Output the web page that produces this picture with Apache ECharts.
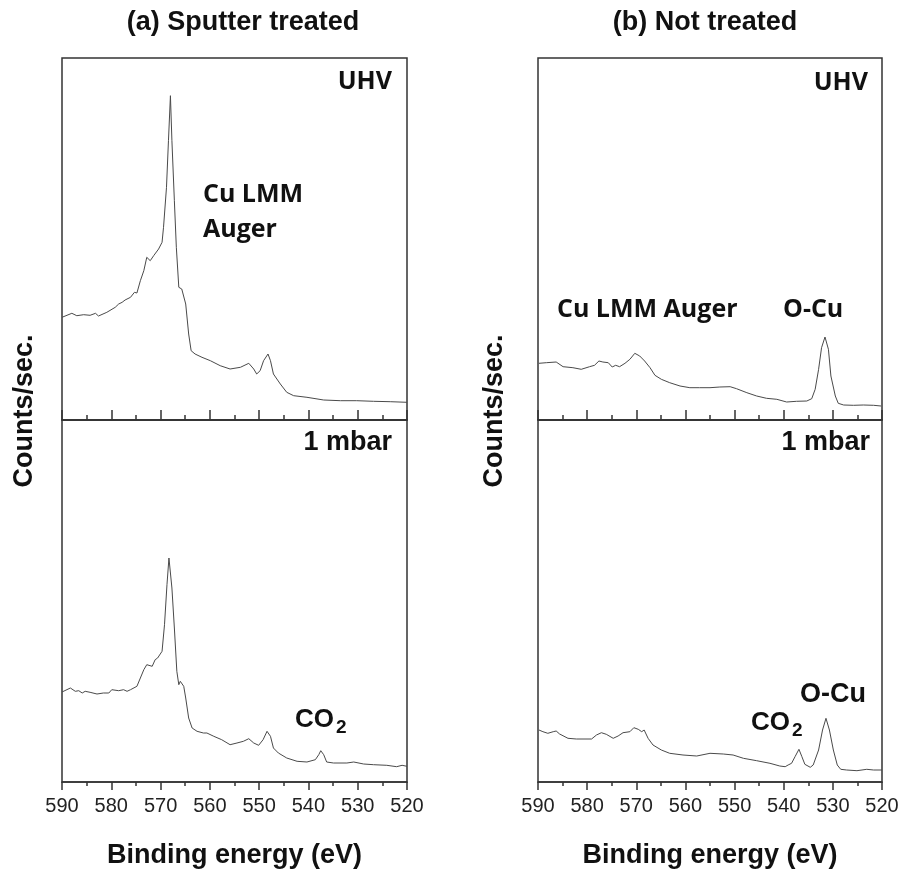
<!DOCTYPE html>
<html>
<head>
<meta charset="utf-8">
<script src="https://cdn.jsdelivr.net/npm/echarts@6/dist/echarts.min.js"></script>
<style>
  html, body { margin: 0; padding: 0; background: #fff; }
  #chart { width: 902px; height: 875px; }
</style>
</head>
<body>
<div id="chart"></div>
<script>
// binding energy (eV) and counts (arbitrary units)
const sputterUhvEnergy = [590, 588, 587, 585.6, 584.3, 583.2, 582.6, 580.9, 579.2, 578.5, 577.8, 577.2, 576.1, 575.3, 574.8, 574.1, 573.4, 572.8, 572.1, 571.4, 570.4, 569.7, 569.4, 568.8, 568.4, 568, 567.7, 567.2, 566.8, 566.3, 565.7, 565.3, 564.9, 564.3, 563.8, 563, 561.6, 559.9, 557.9, 555.9, 553.8, 552.1, 551.1, 550.5, 549.8, 549.1, 548.2, 547.7, 547.1, 545.7, 544.4, 543, 540.3, 536.9, 533.5, 530.2, 526.8, 523.4, 520];
const sputterUhvCounts = [102.7, 106.7, 104.3, 105.3, 104.7, 106.7, 104, 107.7, 112.7, 116, 117.7, 120, 122.7, 127.7, 127, 139.3, 149.3, 162.7, 159.3, 164.3, 171, 177.7, 192.7, 232.7, 279.3, 324.3, 279.3, 219.3, 172.7, 132.7, 131, 132.7, 116, 86, 69.3, 66, 62.7, 59.3, 54.3, 51, 52.7, 56.7, 51, 46, 49.3, 59.3, 66, 59.3, 46, 36, 27.7, 24.3, 22.7, 20, 19.3, 19.3, 18.7, 18.3, 17.7];

const sputterMbarEnergy = [590, 588.3, 587.3, 586.6, 585.9, 585.3, 584.3, 582.9, 581.6, 580.5, 579.9, 578.5, 577.5, 576.8, 576.1, 574.8, 574.1, 573.4, 572.8, 571.7, 571.1, 570.6, 570.2, 569.7, 569.2, 568.7, 568.3, 568, 567.7, 567.2, 566.7, 566.3, 566, 565.7, 565.3, 564.9, 564.3, 563.6, 562.6, 561.3, 560.6, 559.2, 557.6, 555.9, 554.5, 553.2, 552.1, 551.1, 550.1, 549.2, 548.4, 547.7, 547.1, 546.1, 544.4, 542.3, 540.3, 538.6, 537.9, 537.5, 536.9, 536.3, 534.9, 532.2, 530.8, 528.8, 526.8, 524.1, 522.1, 521, 520];
const sputterMbarCounts = [90, 94, 90.7, 91.3, 89, 90.7, 89.7, 88, 89, 89, 92.3, 91.3, 92.3, 90.7, 92.3, 95.7, 104, 112.3, 117.3, 115.7, 122.3, 124, 122.3, 130.7, 157.3, 197.3, 224, 225.7, 194, 154, 110.7, 97.3, 100.7, 101.3, 95.7, 84, 64, 54, 50.7, 49, 49, 45.7, 42.3, 37.3, 39, 40.7, 43.3, 39, 36.7, 42.3, 50.7, 45.7, 34, 29, 24, 20.7, 20, 22.3, 27.3, 31.3, 27.3, 20, 19, 19, 20, 18, 17.3, 16.7, 15.3, 16.7, 15.7];

const untreatedUhvEnergy = [589.8, 588.3, 586.3, 584.9, 582.9, 581.2, 579.5, 578.5, 577.6, 576.8, 575.7, 574.9, 574.2, 573.4, 572.3, 571.3, 570.3, 569.3, 568.3, 567.2, 566.2, 564.9, 563.2, 561.1, 559.1, 557.1, 555, 553, 550.9, 549.6, 547.5, 545.5, 543.5, 541.4, 539.4, 537.4, 535.3, 534.3, 533.6, 532.9, 532.3, 531.6, 530.9, 530.4, 529.5, 528.9, 527.8, 525.8, 523.8, 521.7, 520.2];
const untreatedUhvCounts = [56.7, 57.3, 58, 53.3, 52.3, 50.7, 53.3, 54.7, 59, 58, 57.3, 53, 54.7, 53.3, 56.7, 60.7, 66.7, 64, 59, 52.3, 44.7, 40.7, 37.3, 34, 32.3, 32.3, 32.3, 33, 33.3, 31.3, 27.3, 24, 21.7, 20.7, 18, 18.7, 19, 21.3, 30.7, 50.7, 72.3, 83, 70.7, 44, 24, 16.7, 15, 14.7, 15, 14.7, 14];

const untreatedMbarEnergy = [589.8, 589, 588, 586.9, 586.3, 585.6, 583.9, 582.2, 579.1, 578.1, 577.1, 576.1, 574.7, 573.7, 572.7, 571.3, 570.5, 569.6, 568.9, 568.4, 567.6, 566.6, 564.9, 563.2, 560.5, 557.7, 555, 552.3, 550.3, 548.2, 545.5, 542.8, 540.8, 539.7, 539.1, 538.4, 537.7, 536.9, 536.3, 535.7, 534.6, 534, 532.9, 532.1, 531.4, 530.7, 529.9, 529.1, 528.4, 527.2, 525.1, 523.1, 521.7, 520];
const untreatedMbarCounts = [52, 50.3, 48.7, 50.3, 51, 48, 43.7, 43, 43, 47, 49.3, 47.7, 43.7, 46, 49.3, 50.3, 54.3, 52.7, 50.3, 52, 43.7, 37, 32, 28.7, 27, 26, 28.7, 28, 27, 23.7, 21.3, 18.7, 16, 15.3, 17, 18.7, 25.3, 32.7, 25.3, 17.7, 14.7, 17, 32, 52, 63.7, 52, 32, 17, 12.7, 12, 11.3, 12.7, 12, 12];

const energyTicks = [590, 580, 570, 560, 550, 540, 530, 520];
const panelTitles = ['(a) Sputter treated', '(b) Not treated'];

const pairs = (xs, ys) => xs.map((x, i) => [x, ys[i]]);

const lineColor = '#4a4a4a';
const frameColor = '#333';
const arial = '"Liberation Sans", Arial, sans-serif';
const aptos = '"Open Sans", sans-serif';

const grids = [
  { left: 62, top: 58, width: 345, height: 362 },
  { left: 62, top: 420, width: 345, height: 362 },
  { left: 538, top: 58, width: 344, height: 362 },
  { left: 538, top: 420, width: 344, height: 362 }
].map((g) => ({ ...g, show: true, borderColor: frameColor, borderWidth: 1.5 }));

const makeX = (gridIndex, bottom) => ({
  type: 'value',
  gridIndex,
  min: 520,
  max: 590,
  interval: 10,
  inverse: true,
  axisLine: { show: true, lineStyle: { color: frameColor, width: 1.5 } },
  axisTick: {
    show: true,
    inside: !bottom,
    length: bottom ? 8 : 10,
    lineStyle: { color: frameColor, width: 1.5 }
  },
  minorTick: {
    show: true,
    splitNumber: 2,
    length: bottom ? 4 : 5,
    lineStyle: { color: frameColor, width: 1.5 }
  },
  splitLine: { show: false },
  axisLabel: {
    show: bottom,
    fontSize: 20,
    fontFamily: arial,
    color: '#222',
    margin: 14,
    formatter: (v) => (energyTicks.includes(v) ? String(v) : '')
  },
  name: bottom ? 'Binding energy (eV)' : '',
  nameLocation: 'middle',
  nameGap: 60,
  nameTextStyle: { fontSize: 27, fontWeight: 'bold', fontFamily: arial, color: '#111' }
});

const makeY = (gridIndex) => ({
  type: 'value',
  gridIndex,
  min: 0,
  max: 362,
  axisLine: { show: false },
  axisTick: { show: false },
  axisLabel: { show: false },
  splitLine: { show: false }
});

const makeSeries = (i, xs, ys) => ({
  type: 'line',
  xAxisIndex: i,
  yAxisIndex: i,
  data: pairs(xs, ys),
  showSymbol: false,
  silent: true,
  lineStyle: { color: lineColor, width: 1 }
});

const txt = (text, x, y, opts = {}) => ({
  type: 'text',
  x,
  y,
  rotation: opts.rotation || 0,
  style: {
    text,
    fill: '#111',
    font: `bold ${opts.size || 25}px ${opts.family || aptos}`,
    align: opts.align || 'left',
    verticalAlign: 'middle'
  }
});

const chart = echarts.init(document.getElementById('chart'));
chart.setOption({
  backgroundColor: '#fff',
  animation: false,
  title: [
    { text: panelTitles[0], left: 238, top: 4, textAlign: 'center',
      textStyle: { fontSize: 27, fontWeight: 'bold', fontFamily: arial, color: '#111' } },
    { text: panelTitles[1], left: 700, top: 4, textAlign: 'center',
      textStyle: { fontSize: 27, fontWeight: 'bold', fontFamily: arial, color: '#111' } }
  ],
  grid: grids,
  xAxis: [makeX(0, false), makeX(1, true), makeX(2, false), makeX(3, true)],
  yAxis: [makeY(0), makeY(1), makeY(2), makeY(3)],
  series: [
    makeSeries(0, sputterUhvEnergy, sputterUhvCounts),
    makeSeries(1, sputterMbarEnergy, sputterMbarCounts),
    makeSeries(2, untreatedUhvEnergy, untreatedUhvCounts),
    makeSeries(3, untreatedMbarEnergy, untreatedMbarCounts)
  ],
  graphic: [
    txt('Counts/sec.', 25, 411, { rotation: Math.PI / 2, align: 'center', size: 27, family: arial }),
    txt('Counts/sec.', 495, 411, { rotation: Math.PI / 2, align: 'center', size: 27, family: arial }),
    // (a) sputter treated
    txt('UHV', 392, 82, { align: 'right' }),
    txt('Cu LMM', 203, 195),
    txt('Auger', 203, 230),
    txt('1 mbar', 392, 443, { align: 'right', size: 27, family: arial }),
    txt('CO', 295, 720, { size: 26, family: arial }),
    txt('2', 336, 728, { size: 19, family: arial }),
    // (b) not treated
    txt('UHV', 868, 83, { align: 'right' }),
    txt('Cu LMM Auger', 557, 310),
    txt('O-Cu', 783, 310),
    txt('1 mbar', 870, 443, { align: 'right', size: 27, family: arial }),
    txt('O-Cu', 800, 695, { size: 27, family: arial }),
    txt('CO', 751, 723, { size: 26, family: arial }),
    txt('2', 792, 731, { size: 19, family: arial })
  ]
});
</script>
</body>
</html>
